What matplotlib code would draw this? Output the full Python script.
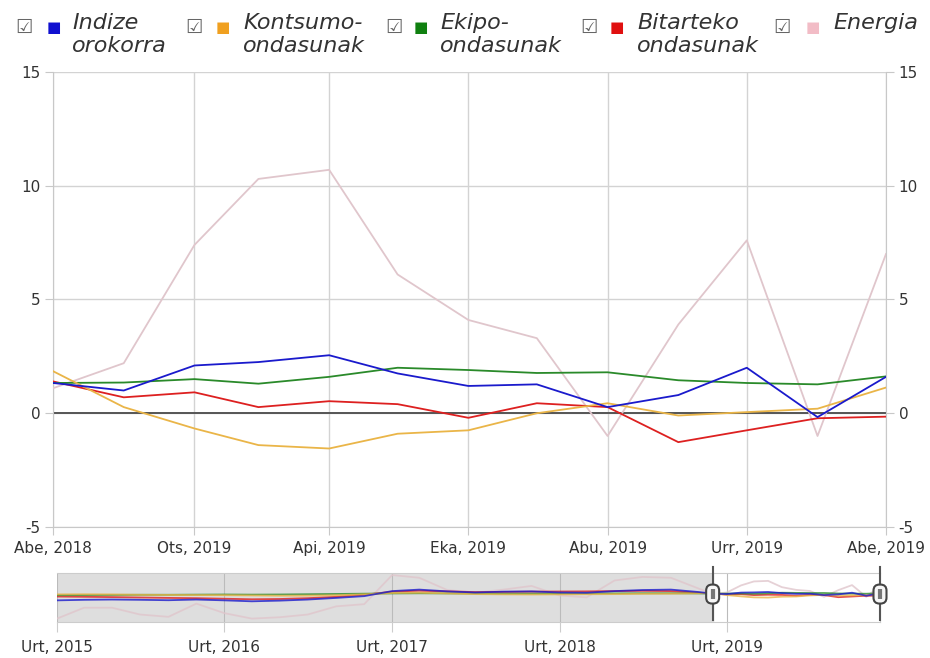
import numpy as np
import pandas as pd
import matplotlib
matplotlib.use('Agg')
import matplotlib.pyplot as plt
import matplotlib.dates as mdates
from matplotlib.patches import FancyBboxPatch
from matplotlib.transforms import blended_transform_factory, ScaledTranslation

plt.rcParams['font.family'] = ['DejaVu Sans']

# main chart: monthly values Abe 2018 .. Abe 2019
months = pd.date_range('2018-12-01', '2019-12-01', freq='MS')
indize = [1.33, 1.0, 2.1, 2.25, 2.55, 1.75, 1.2, 1.27, 0.27, 0.8, 2.0, -0.17, 1.6]
kontsumo = [1.85, 0.27, -0.67, -1.4, -1.55, -0.9, -0.75, 0.0, 0.44, -0.1, 0.05, 0.2, 1.13]
ekipo = [1.33, 1.35, 1.5, 1.3, 1.6, 2.0, 1.9, 1.77, 1.8, 1.45, 1.33, 1.27, 1.62]
bitarteko = [1.4, 0.7, 0.92, 0.27, 0.53, 0.4, -0.2, 0.44, 0.27, -1.27, -0.75, -0.22, -0.15]
energia = [1.1, 2.2, 7.4, 10.3, 10.7, 6.1, 4.1, 3.3, -1.0, 3.9, 7.6, -1.0, 7.0]

x_labels = ['Abe, 2018', 'Ots, 2019', 'Api, 2019', 'Eka, 2019', 'Abu, 2019', 'Urr, 2019', 'Abe, 2019']
y_ticks = [-5, 0, 5, 10, 15]

# navigator history (every 2 months, Urt 2015 .. Aza 2018)
nav_dates = pd.date_range('2015-01-01', '2018-11-01', freq='2MS')
nav_indize = [-3.6, -3.2, -3.0, -3.2, -3.5, -3.0, -3.6, -4.3, -3.8, -3.0, -1.8, -0.5,
              3.2, 4.3, 3.0, 2.2, 2.8, 3.0, 2.2, 2.0, 3.2, 4.0, 4.3, 2.5]
nav_kontsumo = [0.8, 0.9, 0.8, 0.5, 0.4, 0.3, 0.2, 0.0, -0.2, -0.1, 0.2, 0.8,
                1.8, 2.0, 1.5, 1.0, 0.8, 0.7, 0.8, 0.9, 1.0, 1.2, 1.3, 1.6]
nav_ekipo = [0.2, 0.3, 0.4, 0.5, 0.5, 0.6, 0.7, 0.6, 0.7, 0.9, 1.1, 1.3,
             1.5, 1.6, 1.5, 1.4, 1.3, 1.3, 1.4, 1.5, 1.5, 1.6, 1.6, 1.5]
nav_bitarteko = [-0.8, -1.0, -1.2, -1.5, -1.8, -2.0, -2.4, -2.8, -2.6, -2.0, -1.0, 0.5,
                 2.8, 3.5, 3.0, 2.5, 2.6, 2.8, 2.9, 3.0, 3.2, 3.4, 3.2, 2.0]
nav_energia = [-17, -9, -9, -14, -15.7, -6, -13, -17, -16, -14, -8, -6.4,
               15, 13, 4, 2, 4.3, 7, 0, -1.4, 11, 13.6, 13, 5]
nav_years = pd.date_range('2015-01-01', '2019-01-01', freq='YS')
nav_labels = ['Urt, 2015', 'Urt, 2016', 'Urt, 2017', 'Urt, 2018', 'Urt, 2019']

names = ['Indize\norokorra', 'Kontsumo-\nondasunak', 'Ekipo-\nondasunak', 'Bitarteko\nondasunak', 'Energia']
colors = ['#1a1acc', '#eab548', '#2a8a2a', '#dd2020', '#e0c6cc']
legend_colors = ['#1010d0', '#f0a020', '#108010', '#e01010', '#f2bcc6']
series = [indize, kontsumo, ekipo, bitarteko, energia]
nav_series = [nav_indize, nav_kontsumo, nav_ekipo, nav_bitarteko, nav_energia]

W, H = 930, 658
fig = plt.figure(figsize=(9.3, 6.58), dpi=100)
ax = fig.add_axes([53 / W, 1 - 527 / H, 833 / W, 455 / H])

for s, c in zip(series[::-1], colors[::-1]):
    ax.plot(months, s, color=c, lw=1.3, zorder=3)
ax.axhline(0, color='#555555', lw=1.4, zorder=2)

ax.set_xlim(months[0], months[-1])
ax.set_ylim(-5, 15)
ax.set_xticks(months[::2])
ax.set_xticklabels(x_labels)
ax.set_yticks(y_ticks)
ax.set_yticklabels([str(v) for v in y_ticks])
ax.grid(True, color='#d3d3d3', lw=1)
ax.tick_params(axis='both', colors='#c8c8c8', labelcolor='#333333', labelsize=11)
ax.tick_params(axis='y', length=6, left=True, right=True, labelleft=True, labelright=True, pad=3)
ax.tick_params(axis='x', length=6, pad=4)
ax.spines['top'].set_visible(False)
for side in ['left', 'right', 'bottom']:
    ax.spines[side].set_color('#c8c8c8')

# legend
box_x = [15, 185, 385, 580, 773]
sq_x = [54, 223, 421, 617, 813]
txt_x = [72, 243, 440, 637, 833]
for bx, sx, tx, name, lc in zip(box_x, sq_x, txt_x, names, legend_colors):
    fig.text(bx / W, 1 - 27 / H, '\u2611', fontsize=14, color='#666666', va='center')
    fig.text(sx / W, 1 - 27 / H, '\u25a0', fontsize=11, color=lc, va='center', ha='center')
    fig.text(tx / W, 1 - 13 / H, name, fontsize=16, style='italic', color='#333333',
             va='top', linespacing=1.2)

# navigator
nav = fig.add_axes([57 / W, 1 - 622 / H, 823 / W, 49 / H])
for d, s, c in zip(nav_series[::-1], series[::-1], colors[::-1]):
    nav.plot(list(nav_dates) + list(months), list(d) + list(s), color=c, lw=1.3, alpha=0.8)
nav.set_xlim(nav_dates[0], months[-1])
nav.set_ylim(-19.5, 16.5)
nav.axvspan(nav_dates[0], months[0], color='#dedede', zorder=0)
nav.set_xticks(nav_years)
nav.set_xticklabels(nav_labels)
nav.set_yticks([])
nav.grid(True, axis='x', color='#bbbbbb', lw=0.8)
nav.tick_params(axis='x', colors='#cccccc', labelcolor='#333333', labelsize=11, length=7, pad=6)
nav.spines['left'].set_visible(False)
for side in ['top', 'bottom', 'right']:
    nav.spines[side].set_color('#cccccc')

trans = blended_transform_factory(nav.transData, nav.transAxes)
for hx in [months[0], months[-1]]:
    nav.plot([hx, hx], [0.04, 1.13], color='#555555', lw=1.5, transform=trans,
             clip_on=False, zorder=5)
    xd = mdates.date2num(hx)
    htrans = fig.dpi_scale_trans + ScaledTranslation(xd, 0.57, trans)
    box = FancyBboxPatch((-0.065, -0.095), 0.13, 0.19, boxstyle='round,pad=0,rounding_size=0.06',
                         transform=htrans, facecolor='#f6f6f6', edgecolor='#444444',
                         lw=1.5, clip_on=False, zorder=6)
    nav.add_patch(box)
    nav.plot([0, 0], [-0.05, 0.05], color='#777777', lw=3, transform=htrans,
             clip_on=False, zorder=7, solid_capstyle='butt')

fig.savefig('out.png', dpi=100)
